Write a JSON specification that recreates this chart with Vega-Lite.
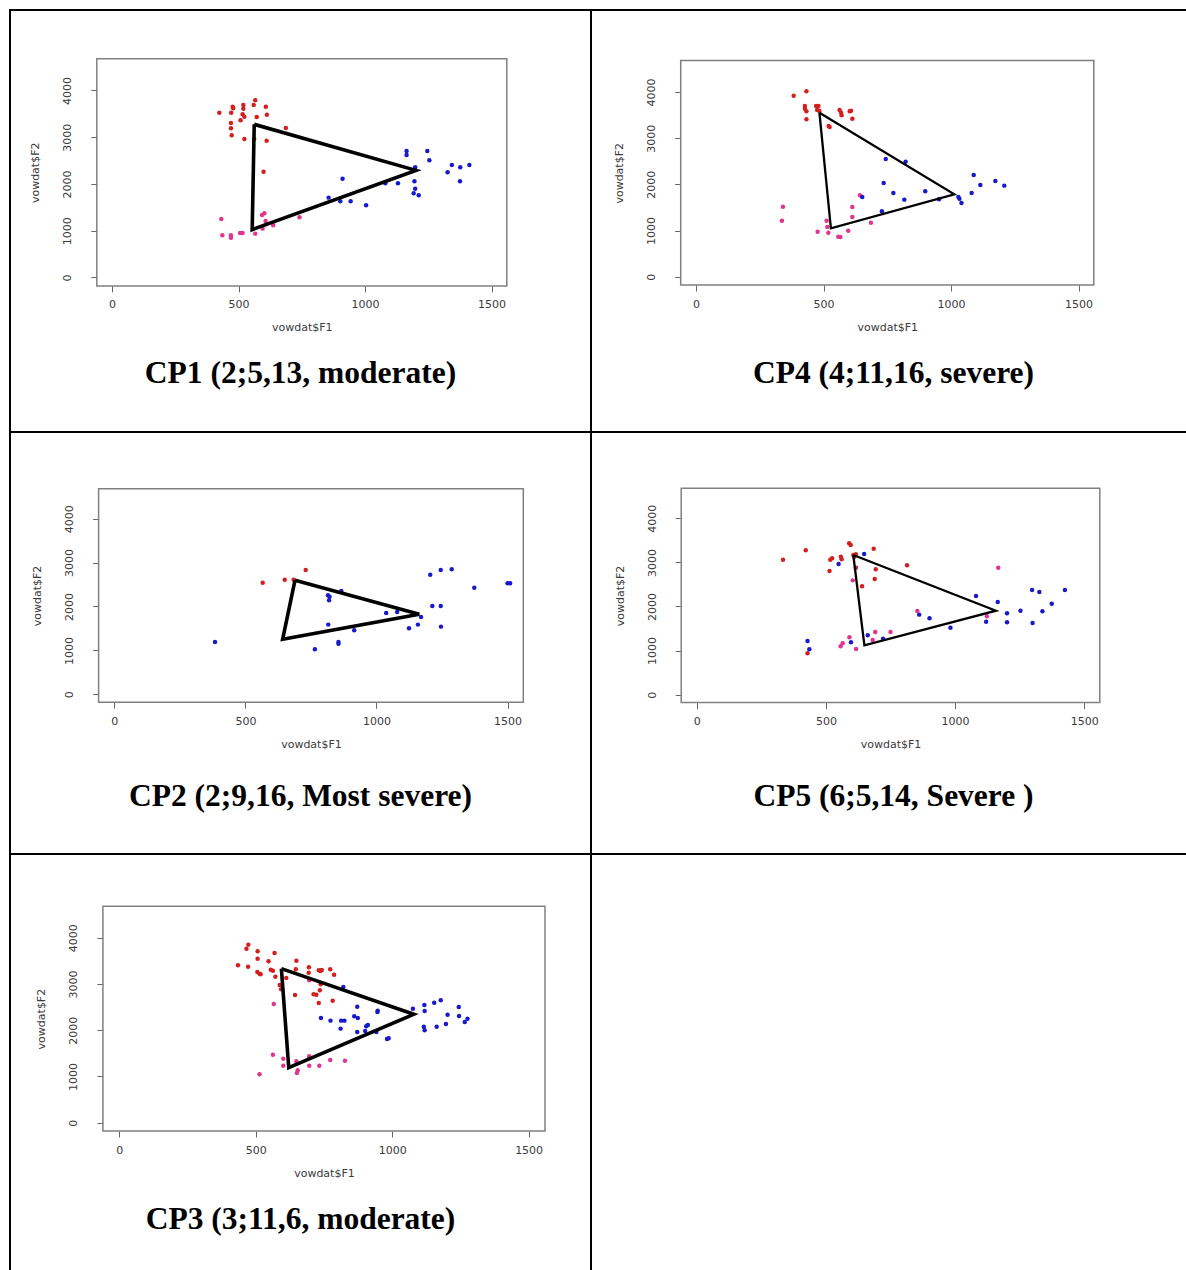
{
"$schema": "https://vega.github.io/schema/vega-lite/v6.json",
"background": "white",
"padding": {"left": 9, "top": 9, "right": 0, "bottom": 0},
"autosize": {"type": "pad"},
"config": {"view": {"stroke": "black", "strokeWidth": 2},
  "axisX": {"domain": false, "grid": false, "ticks": true, "tickSize": 6, "tickColor": "#666", "tickWidth": 1, "labelFont": "DejaVu Sans", "labelFontSize": 11, "labelColor": "#3a3a3a", "labelPadding": 7, "labelFlush": false, "labelOverlap": false, "titleFont": "DejaVu Sans", "titleFontSize": 11, "titleFontWeight": "normal", "titleColor": "#3a3a3a", "titlePadding": 12},
  "axisY": {"domain": false, "grid": false, "ticks": true, "tickSize": 6, "tickColor": "#666", "tickWidth": 1, "labelAngle": 270, "labelAlign": "center", "labelBaseline": "bottom", "labelFont": "DejaVu Sans", "labelFontSize": 11, "labelColor": "#3a3a3a", "labelPadding": 18, "labelFlush": false, "labelOverlap": false, "titleFont": "DejaVu Sans", "titleFontSize": 11, "titleFontWeight": "normal", "titleColor": "#3a3a3a", "titlePadding": 21}
},
"columns": 2,
"spacing": 0,
"bounds": "flush",
"datasets": {
"tri": [
{"p":"CP1","o":1,"F1":562,"F2":3276},{"p":"CP1","o":2,"F1":1201,"F2":2292},{"p":"CP1","o":3,"F1":554,"F2":1024},{"p":"CP1","o":4,"F1":562,"F2":3276},
{"p":"CP4","o":1,"F1":484,"F2":3552},{"p":"CP4","o":2,"F1":1013,"F2":1784},{"p":"CP4","o":3,"F1":529,"F2":1047},{"p":"CP4","o":4,"F1":484,"F2":3552},
{"p":"CP2","o":1,"F1":689,"F2":2596},{"p":"CP2","o":2,"F1":1163,"F2":1822},{"p":"CP2","o":3,"F1":642,"F2":1252},{"p":"CP2","o":4,"F1":689,"F2":2596},
{"p":"CP5","o":1,"F1":606,"F2":3167},{"p":"CP5","o":2,"F1":1158,"F2":1905},{"p":"CP5","o":3,"F1":649,"F2":1119},{"p":"CP5","o":4,"F1":606,"F2":3167},
{"p":"CP3","o":1,"F1":594,"F2":3330},{"p":"CP3","o":2,"F1":1079,"F2":2343},{"p":"CP3","o":3,"F1":621,"F2":1189},{"p":"CP3","o":4,"F1":594,"F2":3330}
],
"pts": [
{"p":"CP1","g":"r","F1":566,"F2":3790},{"p":"CP1","g":"r","F1":519,"F2":3690},{"p":"CP1","g":"r","F1":560,"F2":3690},{"p":"CP1","g":"r","F1":477,"F2":3654},{"p":"CP1","g":"r","F1":479,"F2":3619},{"p":"CP1","g":"r","F1":608,"F2":3654},{"p":"CP1","g":"r","F1":519,"F2":3611},{"p":"CP1","g":"r","F1":424,"F2":3526},{"p":"CP1","g":"r","F1":471,"F2":3526},{"p":"CP1","g":"r","F1":516,"F2":3490},{"p":"CP1","g":"r","F1":523,"F2":3440},{"p":"CP1","g":"r","F1":572,"F2":3433},{"p":"CP1","g":"r","F1":612,"F2":3483},{"p":"CP1","g":"r","F1":508,"F2":3362},{"p":"CP1","g":"r","F1":470,"F2":3305},{"p":"CP1","g":"r","F1":470,"F2":3191},{"p":"CP1","g":"r","F1":473,"F2":3041},{"p":"CP1","g":"r","F1":523,"F2":2963},{"p":"CP1","g":"r","F1":611,"F2":2927},{"p":"CP1","g":"r","F1":687,"F2":3198},{"p":"CP1","g":"r","F1":599,"F2":2264},{"p":"CP1","g":"r","F1":562,"F2":2970},
{"p":"CP1","g":"p","F1":432,"F2":1252},{"p":"CP1","g":"p","F1":436,"F2":902},{"p":"CP1","g":"p","F1":470,"F2":902},{"p":"CP1","g":"p","F1":470,"F2":852},{"p":"CP1","g":"p","F1":506,"F2":952},{"p":"CP1","g":"p","F1":516,"F2":952},{"p":"CP1","g":"p","F1":566,"F2":938},{"p":"CP1","g":"p","F1":593,"F2":1337},{"p":"CP1","g":"p","F1":602,"F2":1373},{"p":"CP1","g":"p","F1":607,"F2":1209},{"p":"CP1","g":"p","F1":595,"F2":1045},{"p":"CP1","g":"p","F1":637,"F2":1116},{"p":"CP1","g":"p","F1":741,"F2":1287},{"p":"CP1","g":"p","F1":608,"F2":1138},
{"p":"CP1","g":"b","F1":1164,"F2":2707},{"p":"CP1","g":"b","F1":1164,"F2":2620},{"p":"CP1","g":"b","F1":1246,"F2":2707},{"p":"CP1","g":"b","F1":1254,"F2":2506},{"p":"CP1","g":"b","F1":1343,"F2":2406},{"p":"CP1","g":"b","F1":1376,"F2":2356},{"p":"CP1","g":"b","F1":1412,"F2":2406},{"p":"CP1","g":"b","F1":1326,"F2":2249},{"p":"CP1","g":"b","F1":1375,"F2":2057},{"p":"CP1","g":"b","F1":1198,"F2":2356},{"p":"CP1","g":"b","F1":1195,"F2":2057},{"p":"CP1","g":"b","F1":1198,"F2":1900},{"p":"CP1","g":"b","F1":1192,"F2":1800},{"p":"CP1","g":"b","F1":1212,"F2":1757},{"p":"CP1","g":"b","F1":1130,"F2":2014},{"p":"CP1","g":"b","F1":1080,"F2":2014},{"p":"CP1","g":"b","F1":911,"F2":2114},{"p":"CP1","g":"b","F1":856,"F2":1708},{"p":"CP1","g":"b","F1":902,"F2":1629},{"p":"CP1","g":"b","F1":943,"F2":1629},{"p":"CP1","g":"b","F1":1004,"F2":1544},
{"p":"CP4","g":"r","F1":383,"F2":3921},{"p":"CP4","g":"r","F1":433,"F2":4015},{"p":"CP4","g":"r","F1":427,"F2":3697},{"p":"CP4","g":"r","F1":427,"F2":3639},{"p":"CP4","g":"r","F1":433,"F2":3582},{"p":"CP4","g":"r","F1":471,"F2":3697},{"p":"CP4","g":"r","F1":480,"F2":3697},{"p":"CP4","g":"r","F1":475,"F2":3610},{"p":"CP4","g":"r","F1":484,"F2":3589},{"p":"CP4","g":"r","F1":433,"F2":3409},{"p":"CP4","g":"r","F1":520,"F2":3264},{"p":"CP4","g":"r","F1":524,"F2":3242},{"p":"CP4","g":"r","F1":563,"F2":3610},{"p":"CP4","g":"r","F1":569,"F2":3553},{"p":"CP4","g":"r","F1":571,"F2":3495},{"p":"CP4","g":"r","F1":603,"F2":3582},{"p":"CP4","g":"r","F1":608,"F2":3596},{"p":"CP4","g":"r","F1":613,"F2":3423},
{"p":"CP4","g":"p","F1":341,"F2":1517},{"p":"CP4","g":"p","F1":337,"F2":1213},{"p":"CP4","g":"p","F1":512,"F2":1213},{"p":"CP4","g":"p","F1":515,"F2":1076},{"p":"CP4","g":"p","F1":477,"F2":975},{"p":"CP4","g":"p","F1":519,"F2":954},{"p":"CP4","g":"p","F1":558,"F2":867},{"p":"CP4","g":"p","F1":566,"F2":860},{"p":"CP4","g":"p","F1":597,"F2":997},{"p":"CP4","g":"p","F1":613,"F2":1510},{"p":"CP4","g":"p","F1":613,"F2":1293},{"p":"CP4","g":"p","F1":643,"F2":1762},{"p":"CP4","g":"p","F1":686,"F2":1170},
{"p":"CP4","g":"b","F1":744,"F2":2549},{"p":"CP4","g":"b","F1":822,"F2":2491},{"p":"CP4","g":"b","F1":1089,"F2":2203},{"p":"CP4","g":"b","F1":736,"F2":2030},{"p":"CP4","g":"b","F1":774,"F2":1813},{"p":"CP4","g":"b","F1":817,"F2":1669},{"p":"CP4","g":"b","F1":899,"F2":1849},{"p":"CP4","g":"b","F1":953,"F2":1676},{"p":"CP4","g":"b","F1":1029,"F2":1726},{"p":"CP4","g":"b","F1":1033,"F2":1690},{"p":"CP4","g":"b","F1":1041,"F2":1596},{"p":"CP4","g":"b","F1":1081,"F2":1813},{"p":"CP4","g":"b","F1":1115,"F2":1986},{"p":"CP4","g":"b","F1":1174,"F2":2073},{"p":"CP4","g":"b","F1":1209,"F2":1972},{"p":"CP4","g":"b","F1":652,"F2":1726},{"p":"CP4","g":"b","F1":729,"F2":1416},
{"p":"CP2","g":"r","F1":566,"F2":2541},{"p":"CP2","g":"r","F1":650,"F2":2611},{"p":"CP2","g":"r","F1":730,"F2":2831},{"p":"CP2","g":"r","F1":684,"F2":2611},
{"p":"CP2","g":"b","F1":384,"F2":1191},{"p":"CP2","g":"b","F1":765,"F2":1025},{"p":"CP2","g":"b","F1":855,"F2":1191},{"p":"CP2","g":"b","F1":855,"F2":1153},{"p":"CP2","g":"b","F1":816,"F2":1587},{"p":"CP2","g":"b","F1":915,"F2":1457},{"p":"CP2","g":"b","F1":819,"F2":2140},{"p":"CP2","g":"b","F1":815,"F2":2254},{"p":"CP2","g":"b","F1":821,"F2":2224},{"p":"CP2","g":"b","F1":866,"F2":2353},{"p":"CP2","g":"b","F1":1037,"F2":1852},{"p":"CP2","g":"b","F1":1079,"F2":1875},{"p":"CP2","g":"b","F1":1124,"F2":1503},{"p":"CP2","g":"b","F1":1158,"F2":1587},{"p":"CP2","g":"b","F1":1170,"F2":1761},{"p":"CP2","g":"b","F1":1213,"F2":2011},{"p":"CP2","g":"b","F1":1245,"F2":2011},{"p":"CP2","g":"b","F1":1246,"F2":1541},{"p":"CP2","g":"b","F1":1205,"F2":2725},{"p":"CP2","g":"b","F1":1245,"F2":2831},{"p":"CP2","g":"b","F1":1287,"F2":2846},{"p":"CP2","g":"b","F1":1373,"F2":2429},{"p":"CP2","g":"b","F1":1500,"F2":2528},{"p":"CP2","g":"b","F1":1510,"F2":2528},
{"p":"CP5","g":"r","F1":334,"F2":3062},{"p":"CP5","g":"r","F1":422,"F2":3273},{"p":"CP5","g":"r","F1":517,"F2":3062},{"p":"CP5","g":"r","F1":524,"F2":3092},{"p":"CP5","g":"r","F1":558,"F2":3129},{"p":"CP5","g":"r","F1":561,"F2":3069},{"p":"CP5","g":"r","F1":590,"F2":3432},{"p":"CP5","g":"r","F1":596,"F2":3394},{"p":"CP5","g":"r","F1":606,"F2":3167},{"p":"CP5","g":"r","F1":610,"F2":3122},{"p":"CP5","g":"r","F1":616,"F2":3182},{"p":"CP5","g":"r","F1":685,"F2":3311},{"p":"CP5","g":"r","F1":693,"F2":2842},{"p":"CP5","g":"r","F1":689,"F2":2623},{"p":"CP5","g":"r","F1":814,"F2":2933},{"p":"CP5","g":"r","F1":640,"F2":2457},{"p":"CP5","g":"r","F1":514,"F2":2805},{"p":"CP5","g":"r","F1":616,"F2":2880},{"p":"CP5","g":"r","F1":429,"F2":937},
{"p":"CP5","g":"b","F1":549,"F2":2963},{"p":"CP5","g":"b","F1":648,"F2":3190},{"p":"CP5","g":"b","F1":429,"F2":1217},{"p":"CP5","g":"b","F1":436,"F2":1028},{"p":"CP5","g":"b","F1":597,"F2":1187},{"p":"CP5","g":"b","F1":662,"F2":1346},{"p":"CP5","g":"b","F1":721,"F2":1270},{"p":"CP5","g":"b","F1":861,"F2":1815},{"p":"CP5","g":"b","F1":901,"F2":1731},{"p":"CP5","g":"b","F1":982,"F2":1519},{"p":"CP5","g":"b","F1":1081,"F2":2237},{"p":"CP5","g":"b","F1":1165,"F2":2101},{"p":"CP5","g":"b","F1":1120,"F2":1656},{"p":"CP5","g":"b","F1":1201,"F2":1641},{"p":"CP5","g":"b","F1":1201,"F2":1845},{"p":"CP5","g":"b","F1":1253,"F2":1905},{"p":"CP5","g":"b","F1":1298,"F2":2374},{"p":"CP5","g":"b","F1":1326,"F2":2328},{"p":"CP5","g":"b","F1":1300,"F2":1625},{"p":"CP5","g":"b","F1":1338,"F2":1890},{"p":"CP5","g":"b","F1":1374,"F2":2064},{"p":"CP5","g":"b","F1":1425,"F2":2374},
{"p":"CP5","g":"p","F1":604,"F2":2592},{"p":"CP5","g":"p","F1":1167,"F2":2880},{"p":"CP5","g":"p","F1":854,"F2":1898},{"p":"CP5","g":"p","F1":1123,"F2":1777},{"p":"CP5","g":"p","F1":591,"F2":1300},{"p":"CP5","g":"p","F1":565,"F2":1164},{"p":"CP5","g":"p","F1":557,"F2":1096},{"p":"CP5","g":"p","F1":691,"F2":1421},{"p":"CP5","g":"p","F1":617,"F2":1036},{"p":"CP5","g":"p","F1":681,"F2":1240},{"p":"CP5","g":"p","F1":750,"F2":1421},
{"p":"CP3","g":"r","F1":473,"F2":3849},{"p":"CP3","g":"r","F1":466,"F2":3762},{"p":"CP3","g":"r","F1":507,"F2":3704},{"p":"CP3","g":"r","F1":569,"F2":3668},{"p":"CP3","g":"r","F1":507,"F2":3546},{"p":"CP3","g":"r","F1":547,"F2":3488},{"p":"CP3","g":"r","F1":649,"F2":3503},{"p":"CP3","g":"r","F1":435,"F2":3402},{"p":"CP3","g":"r","F1":472,"F2":3373},{"p":"CP3","g":"r","F1":555,"F2":3308},{"p":"CP3","g":"r","F1":563,"F2":3286},{"p":"CP3","g":"r","F1":506,"F2":3258},{"p":"CP3","g":"r","F1":514,"F2":3222},{"p":"CP3","g":"r","F1":518,"F2":3208},{"p":"CP3","g":"r","F1":572,"F2":3157},{"p":"CP3","g":"r","F1":612,"F2":3128},{"p":"CP3","g":"r","F1":695,"F2":3359},{"p":"CP3","g":"r","F1":694,"F2":3243},{"p":"CP3","g":"r","F1":647,"F2":3316},{"p":"CP3","g":"r","F1":731,"F2":3294},{"p":"CP3","g":"r","F1":737,"F2":3280},{"p":"CP3","g":"r","F1":742,"F2":3301},{"p":"CP3","g":"r","F1":773,"F2":3316},{"p":"CP3","g":"r","F1":787,"F2":3200},{"p":"CP3","g":"r","F1":588,"F2":2977},{"p":"CP3","g":"r","F1":593,"F2":2883},{"p":"CP3","g":"r","F1":644,"F2":2760},{"p":"CP3","g":"r","F1":738,"F2":2993},{"p":"CP3","g":"r","F1":735,"F2":2861},{"p":"CP3","g":"r","F1":722,"F2":2768},{"p":"CP3","g":"r","F1":712,"F2":2775},{"p":"CP3","g":"r","F1":731,"F2":2587},{"p":"CP3","g":"r","F1":782,"F2":2638},
{"p":"CP3","g":"p","F1":566,"F2":2566},{"p":"CP3","g":"p","F1":696,"F2":3078},{"p":"CP3","g":"p","F1":563,"F2":1470},{"p":"CP3","g":"p","F1":601,"F2":1384},{"p":"CP3","g":"p","F1":601,"F2":1232},{"p":"CP3","g":"p","F1":649,"F2":1326},{"p":"CP3","g":"p","F1":654,"F2":1131},{"p":"CP3","g":"p","F1":651,"F2":1074},{"p":"CP3","g":"p","F1":696,"F2":1434},{"p":"CP3","g":"p","F1":696,"F2":1232},{"p":"CP3","g":"p","F1":733,"F2":1232},{"p":"CP3","g":"p","F1":773,"F2":1355},{"p":"CP3","g":"p","F1":827,"F2":1341},{"p":"CP3","g":"p","F1":514,"F2":1045},
{"p":"CP3","g":"b","F1":821,"F2":2933},{"p":"CP3","g":"b","F1":872,"F2":2508},{"p":"CP3","g":"b","F1":739,"F2":2264},{"p":"CP3","g":"b","F1":774,"F2":2206},{"p":"CP3","g":"b","F1":813,"F2":2206},{"p":"CP3","g":"b","F1":825,"F2":2206},{"p":"CP3","g":"b","F1":861,"F2":2299},{"p":"CP3","g":"b","F1":874,"F2":2264},{"p":"CP3","g":"b","F1":811,"F2":2033},{"p":"CP3","g":"b","F1":872,"F2":1961},{"p":"CP3","g":"b","F1":905,"F2":2083},{"p":"CP3","g":"b","F1":911,"F2":2112},{"p":"CP3","g":"b","F1":901,"F2":1982},{"p":"CP3","g":"b","F1":946,"F2":2393},{"p":"CP3","g":"b","F1":947,"F2":2422},{"p":"CP3","g":"b","F1":942,"F2":1961},{"p":"CP3","g":"b","F1":981,"F2":1810},{"p":"CP3","g":"b","F1":987,"F2":1824},{"p":"CP3","g":"b","F1":1076,"F2":2465},{"p":"CP3","g":"b","F1":1118,"F2":2544},{"p":"CP3","g":"b","F1":1154,"F2":2594},{"p":"CP3","g":"b","F1":1178,"F2":2645},{"p":"CP3","g":"b","F1":1119,"F2":2415},{"p":"CP3","g":"b","F1":1203,"F2":2335},{"p":"CP3","g":"b","F1":1244,"F2":2501},{"p":"CP3","g":"b","F1":1245,"F2":2306},{"p":"CP3","g":"b","F1":1276,"F2":2249},{"p":"CP3","g":"b","F1":1266,"F2":2177},{"p":"CP3","g":"b","F1":1116,"F2":2076},{"p":"CP3","g":"b","F1":1119,"F2":1996},{"p":"CP3","g":"b","F1":1163,"F2":2076},{"p":"CP3","g":"b","F1":1197,"F2":2134}
]
},
"concat": [
{
"width": 581, "height": 422,
"title": {"text": "CP1 (2;5,13, moderate)", "orient": "bottom", "frame": "group", "anchor": "middle", "baseline": "alphabetic", "offset": -49, "font": "Liberation Serif", "fontSize": 31.5, "fontWeight": "bold", "color": "black"},
"layer": [
{"data": {"values": [{}]}, "mark": {"type": "rect", "fill": "white", "fillOpacity": 0, "stroke": "#808080", "strokeWidth": 1.5},
 "encoding": {
  "x": {"datum": -60, "type": "quantitative", "scale": {"domain": [-60, 1560], "range": [86.8, 496.8], "nice": false, "zero": false}, "axis": {"offset": -146.1, "title": "vowdat$F1", "values": [0, 500, 1000, 1500], "format": "d"}},
  "x2": {"datum": 1560},
  "y": {"datum": -180, "type": "quantitative", "scale": {"domain": [-180, 4680], "range": [275.9, 48.7], "nice": false, "zero": false}, "axis": {"offset": -86.8, "title": "vowdat$F2", "values": [0, 1000, 2000, 3000, 4000], "format": "d"}},
  "y2": {"datum": 4680}
 }},
{"data": {"name": "pts"}, "transform": [{"filter": "datum.p == 'CP1'"}], "mark": {"type": "circle", "size": 20, "opacity": 1},
 "encoding": {
  "x": {"field": "F1", "type": "quantitative", "scale": {"domain": [-60, 1560], "range": [86.8, 496.8], "nice": false, "zero": false}, "axis": {"offset": -146.1, "title": "vowdat$F1", "values": [0, 500, 1000, 1500], "format": "d"}},
  "y": {"field": "F2", "type": "quantitative", "scale": {"domain": [-180, 4680], "range": [275.9, 48.7], "nice": false, "zero": false}, "axis": {"offset": -86.8, "title": "vowdat$F2", "values": [0, 1000, 2000, 3000, 4000], "format": "d"}},
  "color": {"field": "g", "type": "nominal", "scale": {"domain": ["r", "b", "p"], "range": ["#d41f1f", "#1818cc", "#e0358f"]}, "legend": null}}},
{"data": {"name": "tri"}, "transform": [{"filter": "datum.p == 'CP1'"}], "mark": {"type": "line", "color": "black", "strokeWidth": 3.6},
 "encoding": {
  "x": {"field": "F1", "type": "quantitative", "scale": {"domain": [-60, 1560], "range": [86.8, 496.8], "nice": false, "zero": false}, "axis": {"offset": -146.1, "title": "vowdat$F1", "values": [0, 500, 1000, 1500], "format": "d"}},
  "y": {"field": "F2", "type": "quantitative", "scale": {"domain": [-180, 4680], "range": [275.9, 48.7], "nice": false, "zero": false}, "axis": {"offset": -86.8, "title": "vowdat$F2", "values": [0, 1000, 2000, 3000, 4000], "format": "d"}},
  "order": {"field": "o", "type": "quantitative"}}}
]
},
{
"width": 596, "height": 422,
"title": {"text": "CP4 (4;11,16, severe)", "orient": "bottom", "frame": "group", "anchor": "middle", "baseline": "alphabetic", "offset": -49, "dx": 4.5, "font": "Liberation Serif", "fontSize": 31.5, "fontWeight": "bold", "color": "black"},
"layer": [
{"data": {"values": [{}]}, "mark": {"type": "rect", "fill": "white", "fillOpacity": 0, "stroke": "#808080", "strokeWidth": 1.5},
 "encoding": {
  "x": {"datum": -60, "type": "quantitative", "scale": {"domain": [-60, 1560], "range": [89.7, 502.8], "nice": false, "zero": false}, "axis": {"offset": -147, "title": "vowdat$F1", "values": [0, 500, 1000, 1500], "format": "d"}},
  "x2": {"datum": 1560},
  "y": {"datum": -180, "type": "quantitative", "scale": {"domain": [-180, 4680], "range": [275.0, 50.6], "nice": false, "zero": false}, "axis": {"offset": -89.7, "title": "vowdat$F2", "values": [0, 1000, 2000, 3000, 4000], "format": "d"}},
  "y2": {"datum": 4680}
 }},
{"data": {"name": "pts"}, "transform": [{"filter": "datum.p == 'CP4'"}], "mark": {"type": "circle", "size": 20, "opacity": 1},
 "encoding": {
  "x": {"field": "F1", "type": "quantitative", "scale": {"domain": [-60, 1560], "range": [89.7, 502.8], "nice": false, "zero": false}, "axis": {"offset": -147, "title": "vowdat$F1", "values": [0, 500, 1000, 1500], "format": "d"}},
  "y": {"field": "F2", "type": "quantitative", "scale": {"domain": [-180, 4680], "range": [275.0, 50.6], "nice": false, "zero": false}, "axis": {"offset": -89.7, "title": "vowdat$F2", "values": [0, 1000, 2000, 3000, 4000], "format": "d"}},
  "color": {"field": "g", "type": "nominal", "scale": {"domain": ["r", "b", "p"], "range": ["#d41f1f", "#1818cc", "#e0358f"]}, "legend": null}}},
{"data": {"name": "tri"}, "transform": [{"filter": "datum.p == 'CP4'"}], "mark": {"type": "line", "color": "black", "strokeWidth": 2.3},
 "encoding": {
  "x": {"field": "F1", "type": "quantitative", "scale": {"domain": [-60, 1560], "range": [89.7, 502.8], "nice": false, "zero": false}, "axis": {"offset": -147, "title": "vowdat$F1", "values": [0, 500, 1000, 1500], "format": "d"}},
  "y": {"field": "F2", "type": "quantitative", "scale": {"domain": [-180, 4680], "range": [275.0, 50.6], "nice": false, "zero": false}, "axis": {"offset": -89.7, "title": "vowdat$F2", "values": [0, 1000, 2000, 3000, 4000], "format": "d"}},
  "order": {"field": "o", "type": "quantitative"}}}
]
},
{
"width": 581, "height": 422,
"title": {"text": "CP2 (2;9,16, Most severe)", "orient": "bottom", "frame": "group", "anchor": "middle", "baseline": "alphabetic", "offset": -48, "font": "Liberation Serif", "fontSize": 31.5, "fontWeight": "bold", "color": "black"},
"layer": [
{"data": {"values": [{}]}, "mark": {"type": "rect", "fill": "white", "fillOpacity": 0, "stroke": "#808080", "strokeWidth": 1.5},
 "encoding": {
  "x": {"datum": -60, "type": "quantitative", "scale": {"domain": [-60, 1560], "range": [88.6, 513.3], "nice": false, "zero": false}, "axis": {"offset": -151.8, "title": "vowdat$F1", "values": [0, 500, 1000, 1500], "format": "d"}},
  "x2": {"datum": 1560},
  "y": {"datum": -180, "type": "quantitative", "scale": {"domain": [-180, 4680], "range": [270.2, 56.8], "nice": false, "zero": false}, "axis": {"offset": -88.6, "title": "vowdat$F2", "values": [0, 1000, 2000, 3000, 4000], "format": "d"}},
  "y2": {"datum": 4680}
 }},
{"data": {"name": "pts"}, "transform": [{"filter": "datum.p == 'CP2'"}], "mark": {"type": "circle", "size": 20, "opacity": 1},
 "encoding": {
  "x": {"field": "F1", "type": "quantitative", "scale": {"domain": [-60, 1560], "range": [88.6, 513.3], "nice": false, "zero": false}, "axis": {"offset": -151.8, "title": "vowdat$F1", "values": [0, 500, 1000, 1500], "format": "d"}},
  "y": {"field": "F2", "type": "quantitative", "scale": {"domain": [-180, 4680], "range": [270.2, 56.8], "nice": false, "zero": false}, "axis": {"offset": -88.6, "title": "vowdat$F2", "values": [0, 1000, 2000, 3000, 4000], "format": "d"}},
  "color": {"field": "g", "type": "nominal", "scale": {"domain": ["r", "b", "p"], "range": ["#d41f1f", "#1818cc", "#e0358f"]}, "legend": null}}},
{"data": {"name": "tri"}, "transform": [{"filter": "datum.p == 'CP2'"}], "mark": {"type": "line", "color": "black", "strokeWidth": 3.6},
 "encoding": {
  "x": {"field": "F1", "type": "quantitative", "scale": {"domain": [-60, 1560], "range": [88.6, 513.3], "nice": false, "zero": false}, "axis": {"offset": -151.8, "title": "vowdat$F1", "values": [0, 500, 1000, 1500], "format": "d"}},
  "y": {"field": "F2", "type": "quantitative", "scale": {"domain": [-180, 4680], "range": [270.2, 56.8], "nice": false, "zero": false}, "axis": {"offset": -88.6, "title": "vowdat$F2", "values": [0, 1000, 2000, 3000, 4000], "format": "d"}},
  "order": {"field": "o", "type": "quantitative"}}}
]
},
{
"width": 596, "height": 422,
"title": {"text": "CP5 (6;5,14, Severe )", "orient": "bottom", "frame": "group", "anchor": "middle", "baseline": "alphabetic", "offset": -48, "dx": 4.5, "font": "Liberation Serif", "fontSize": 31.5, "fontWeight": "bold", "color": "black"},
"layer": [
{"data": {"values": [{}]}, "mark": {"type": "rect", "fill": "white", "fillOpacity": 0, "stroke": "#808080", "strokeWidth": 1.5},
 "encoding": {
  "x": {"datum": -60, "type": "quantitative", "scale": {"domain": [-60, 1560], "range": [90.2, 508.8], "nice": false, "zero": false}, "axis": {"offset": -151.4, "title": "vowdat$F1", "values": [0, 500, 1000, 1500], "format": "d"}},
  "x2": {"datum": 1560},
  "y": {"datum": -180, "type": "quantitative", "scale": {"domain": [-180, 4680], "range": [270.6, 56.3], "nice": false, "zero": false}, "axis": {"offset": -90.2, "title": "vowdat$F2", "values": [0, 1000, 2000, 3000, 4000], "format": "d"}},
  "y2": {"datum": 4680}
 }},
{"data": {"name": "pts"}, "transform": [{"filter": "datum.p == 'CP5'"}], "mark": {"type": "circle", "size": 20, "opacity": 1},
 "encoding": {
  "x": {"field": "F1", "type": "quantitative", "scale": {"domain": [-60, 1560], "range": [90.2, 508.8], "nice": false, "zero": false}, "axis": {"offset": -151.4, "title": "vowdat$F1", "values": [0, 500, 1000, 1500], "format": "d"}},
  "y": {"field": "F2", "type": "quantitative", "scale": {"domain": [-180, 4680], "range": [270.6, 56.3], "nice": false, "zero": false}, "axis": {"offset": -90.2, "title": "vowdat$F2", "values": [0, 1000, 2000, 3000, 4000], "format": "d"}},
  "color": {"field": "g", "type": "nominal", "scale": {"domain": ["r", "b", "p"], "range": ["#d41f1f", "#1818cc", "#e0358f"]}, "legend": null}}},
{"data": {"name": "tri"}, "transform": [{"filter": "datum.p == 'CP5'"}], "mark": {"type": "line", "color": "black", "strokeWidth": 2.3},
 "encoding": {
  "x": {"field": "F1", "type": "quantitative", "scale": {"domain": [-60, 1560], "range": [90.2, 508.8], "nice": false, "zero": false}, "axis": {"offset": -151.4, "title": "vowdat$F1", "values": [0, 500, 1000, 1500], "format": "d"}},
  "y": {"field": "F2", "type": "quantitative", "scale": {"domain": [-180, 4680], "range": [270.6, 56.3], "nice": false, "zero": false}, "axis": {"offset": -90.2, "title": "vowdat$F2", "values": [0, 1000, 2000, 3000, 4000], "format": "d"}},
  "order": {"field": "o", "type": "quantitative"}}}
]
},
{
"width": 581, "height": 417,
"title": {"text": "CP3 (3;11,6, moderate)", "orient": "bottom", "frame": "group", "anchor": "middle", "baseline": "alphabetic", "offset": -42, "font": "Liberation Serif", "fontSize": 31.5, "fontWeight": "bold", "color": "black"},
"layer": [
{"data": {"values": [{}]}, "mark": {"type": "rect", "fill": "white", "fillOpacity": 0, "stroke": "#808080", "strokeWidth": 1.5},
 "encoding": {
  "x": {"datum": -60, "type": "quantitative", "scale": {"domain": [-60, 1560], "range": [92.9, 535.0], "nice": false, "zero": false}, "axis": {"offset": -140, "title": "vowdat$F1", "values": [0, 500, 1000, 1500], "format": "d"}},
  "x2": {"datum": 1560},
  "y": {"datum": -180, "type": "quantitative", "scale": {"domain": [-180, 4680], "range": [277.0, 52.2], "nice": false, "zero": false}, "axis": {"offset": -92.9, "title": "vowdat$F2", "values": [0, 1000, 2000, 3000, 4000], "format": "d"}},
  "y2": {"datum": 4680}
 }},
{"data": {"name": "pts"}, "transform": [{"filter": "datum.p == 'CP3'"}], "mark": {"type": "circle", "size": 20, "opacity": 1},
 "encoding": {
  "x": {"field": "F1", "type": "quantitative", "scale": {"domain": [-60, 1560], "range": [92.9, 535.0], "nice": false, "zero": false}, "axis": {"offset": -140, "title": "vowdat$F1", "values": [0, 500, 1000, 1500], "format": "d"}},
  "y": {"field": "F2", "type": "quantitative", "scale": {"domain": [-180, 4680], "range": [277.0, 52.2], "nice": false, "zero": false}, "axis": {"offset": -92.9, "title": "vowdat$F2", "values": [0, 1000, 2000, 3000, 4000], "format": "d"}},
  "color": {"field": "g", "type": "nominal", "scale": {"domain": ["r", "b", "p"], "range": ["#d41f1f", "#1818cc", "#e0358f"]}, "legend": null}}},
{"data": {"name": "tri"}, "transform": [{"filter": "datum.p == 'CP3'"}], "mark": {"type": "line", "color": "black", "strokeWidth": 3.6},
 "encoding": {
  "x": {"field": "F1", "type": "quantitative", "scale": {"domain": [-60, 1560], "range": [92.9, 535.0], "nice": false, "zero": false}, "axis": {"offset": -140, "title": "vowdat$F1", "values": [0, 500, 1000, 1500], "format": "d"}},
  "y": {"field": "F2", "type": "quantitative", "scale": {"domain": [-180, 4680], "range": [277.0, 52.2], "nice": false, "zero": false}, "axis": {"offset": -92.9, "title": "vowdat$F2", "values": [0, 1000, 2000, 3000, 4000], "format": "d"}},
  "order": {"field": "o", "type": "quantitative"}}}
]
},
{
"width": 596, "height": 417,
"data": {"values": []},
"mark": {"type": "point", "opacity": 0},
"encoding": {}
}
]
}
